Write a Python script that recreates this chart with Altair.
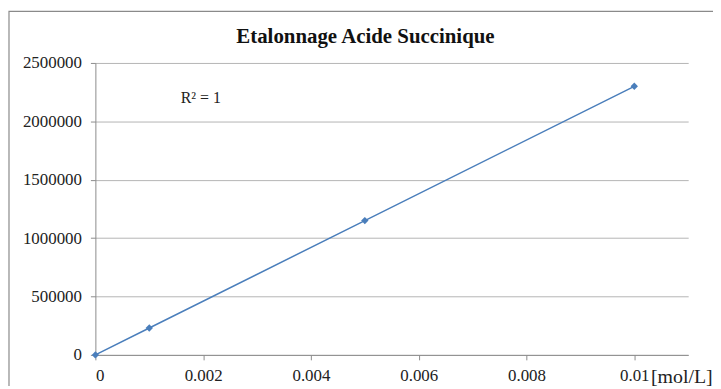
import altair as alt
import pandas as pd

conc = [0.0, 0.001, 0.005, 0.01]
area = [0, 230000, 1150000, 2300000]
x_ticks = [0, 0.002, 0.004, 0.006, 0.008, 0.01]
y_ticks = [0, 500000, 1000000, 1500000, 2000000, 2500000]
title_text = ["Etalonnage Acide Succinique"]
r2_text = ["R² = 1"]

df = pd.DataFrame({"c": conc, "a": area})
FONT = "'Liberation Serif', 'Times New Roman', Times, serif"
BLUE = "#4a7ebb"

x = alt.X("c:Q", scale=alt.Scale(domain=[0, 0.011], nice=False),
          axis=alt.Axis(values=x_ticks, format=".3~f", grid=False, tickSize=5,
                        labelPadding=8, title="[mol/L]", titleX=559, titleY=28,
                        titleAlign="left", titleBaseline="alphabetic",
                        titleFontSize=20, titleFontWeight="normal", titleFont=FONT,
                        titleColor="#222"))
y = alt.Y("a:Q", scale=alt.Scale(domain=[0, 2500000], nice=False),
          axis=alt.Axis(values=y_ticks, format="d", grid=True, tickSize=5,
                        labelPadding=9, title=None))

line = alt.Chart(df).mark_line(color=BLUE, strokeWidth=1.5).encode(x=x, y=y)
pts = alt.Chart(df).mark_point(shape="diamond", filled=True, size=55, color=BLUE, opacity=1).encode(x=x, y=y)

r2 = alt.Chart(pd.DataFrame({"t": r2_text})).mark_text(
    font=FONT, fontSize=16, color="#222", align="left", baseline="middle"
).encode(x=alt.value(86), y=alt.value(35), text="t:N")

ttl = alt.Chart(pd.DataFrame({"t": title_text})).mark_text(
    font=FONT, fontSize=21, fontWeight="bold", color="#111", align="center", baseline="alphabetic"
).encode(x=alt.value(272), y=alt.value(-20), text="t:N")

frame = alt.Chart(pd.DataFrame({"t": [0]})).mark_rect(
    fill=None, stroke="#8a8a8a", strokeWidth=1.2
).encode(x=alt.value(-87), x2=alt.value(700), y=alt.value(-52), y2=alt.value(340))

chart = alt.layer(frame, line, pts, r2, ttl).properties(
    width=597, height=294,
    autosize=alt.AutoSizeParams(type="none"),
    padding={"left": 88, "top": 54, "right": 25, "bottom": 30},
).configure_view(stroke=None).configure_axis(
    domainColor="#8c8c8c", tickColor="#8c8c8c", gridColor="#b4b4b4",
    labelFont=FONT, labelFontSize=17, labelColor="#222",
)

chart.save("out.html", embed_options={"renderer": "svg", "actions": False})
